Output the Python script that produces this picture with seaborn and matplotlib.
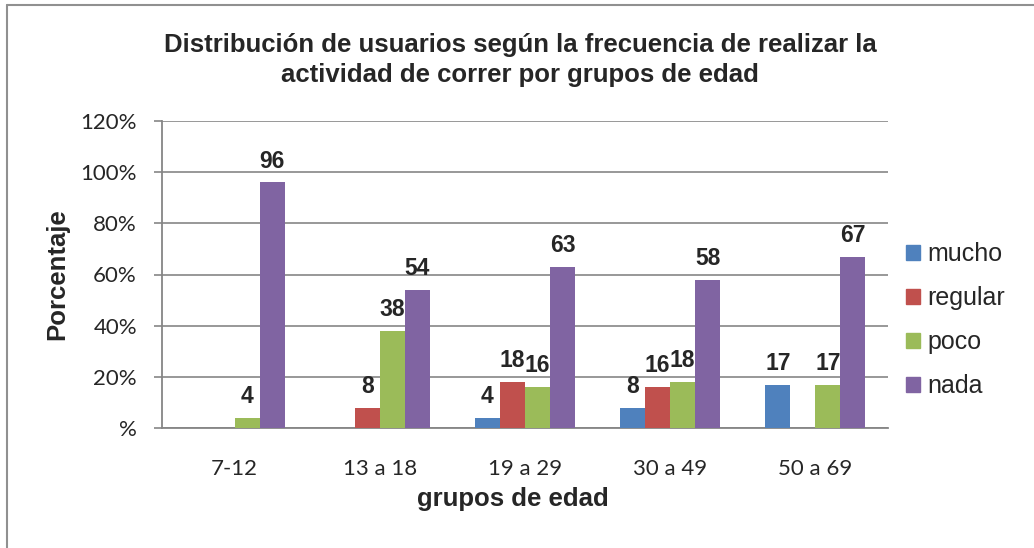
import matplotlib
matplotlib.use("Agg")
import matplotlib.pyplot as plt
import seaborn as sns
import pandas as pd
from matplotlib.ticker import FuncFormatter
from matplotlib.lines import Line2D

categories = ["7-12", "13 a 18", "19 a 29", "30 a 49", "50 a 69"]
series = ["mucho", "regular", "poco", "nada"]
mucho = [0, 0, 4, 8, 17]
regular = [0, 8, 18, 16, 0]
poco = [4, 38, 16, 18, 17]
nada = [96, 54, 63, 58, 67]
colors = ["#4F81BD", "#C0504D", "#9BBB59", "#8064A2"]
yticks = [0, 20, 40, 60, 80, 100, 120]

rows = []
for name, vals in zip(series, [mucho, regular, poco, nada]):
    for c, v in zip(categories, vals):
        rows.append({"grupo": c, "serie": name, "valor": v})
df = pd.DataFrame(rows)

sns.set_theme(style="white")
plt.rcParams["font.family"] = ["Liberation Sans", "DejaVu Sans"]

fig = plt.figure(figsize=(10.34, 5.48), dpi=100)
ax = fig.add_axes([162 / 1034, 1 - 428 / 548, 726 / 1034, 307 / 548])

sns.barplot(data=df, x="grupo", y="valor", hue="serie", order=categories,
            hue_order=series, palette=colors, width=0.69, saturation=1,
            linewidth=0, ax=ax, legend=False, zorder=3)

ax.set_ylim(0, 120)
ax.set_yticks(yticks)
ax.yaxis.set_major_formatter(FuncFormatter(lambda v, p: "%" if v == 0 else f"{int(v)}%"))
ax.grid(axis="y", color="#868686", linewidth=1.2, zorder=0)
ax.set_axisbelow(True)
for s in ["top", "right"]:
    ax.spines[s].set_visible(False)
for s in ["left", "bottom"]:
    ax.spines[s].set_color("#868686")
    ax.spines[s].set_linewidth(1.3)
ax.tick_params(axis="y", which="major", left=True, length=6, width=1.2,
               color="#868686", pad=12, labelsize=16)
ax.tick_params(axis="x", bottom=False, pad=16, labelsize=16)
for lab in ax.get_xticklabels() + ax.get_yticklabels():
    lab.set_fontfamily(["Lato", "DejaVu Sans"])
ax.set_xlabel("")
ax.set_ylabel("")

for cont in ax.containers:
    labels = [f"{b.get_height():.0f}" if b.get_height() > 0 else "" for b in cont]
    ax.bar_label(cont, labels=labels, padding=7, fontsize=16.5, fontweight="bold")

handles = [plt.Rectangle((0, 0), 1, 1, color=c) for c in colors]
fig.legend(handles, series, loc="center left",
           bbox_to_anchor=(906 / 1034, 1 - 320 / 548), bbox_transform=fig.transFigure,
           frameon=False, fontsize=18, handlelength=0.55, handleheight=0.55,
           handletextpad=0.3, labelspacing=0.8, borderpad=0, borderaxespad=0)

fig.text(520 / 1034, 1 - 60 / 548,
         "Distribución de usuarios según la frecuencia de realizar la\nactividad de correr por grupos de edad",
         ha="center", va="center", fontsize=18.5, fontweight="bold", linespacing=1.35)
fig.text(57 / 1034, 1 - 274 / 548, "Porcentaje", rotation=90, ha="center",
         va="center", fontsize=18.5, fontweight="bold")
fig.text(513 / 1034, 1 - 499 / 548, "grupos de edad", ha="center", va="center",
         fontsize=18.5, fontweight="bold")

fig.add_artist(Line2D([7 / 1034, 7 / 1034], [0, 1 - 5 / 548], transform=fig.transFigure,
                      color="#909090", linewidth=1.5))
fig.add_artist(Line2D([7 / 1034, 1], [1 - 5 / 548, 1 - 5 / 548], transform=fig.transFigure,
                      color="#909090", linewidth=1.5))

fig.savefig("out.png", dpi=100)
